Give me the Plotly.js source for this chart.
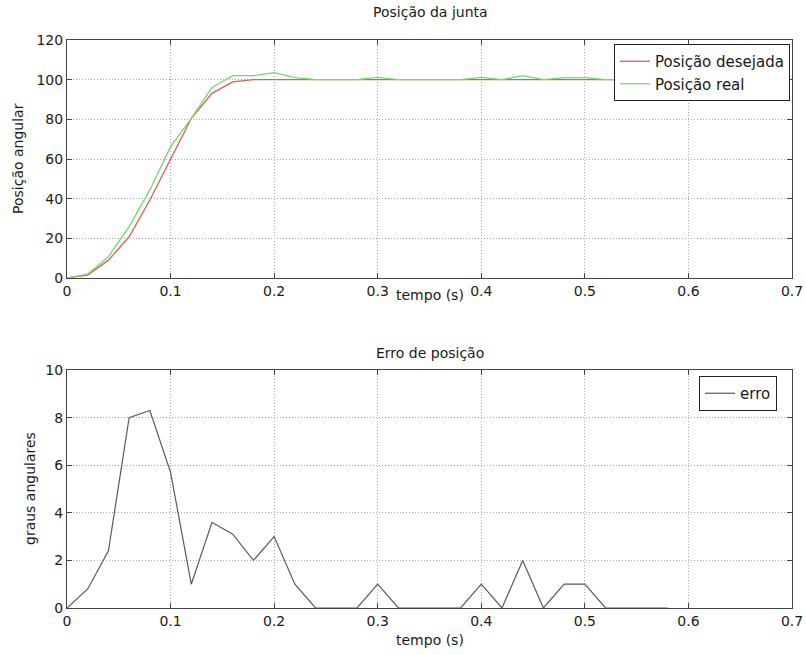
<!DOCTYPE html>
<html><head><meta charset="utf-8">
<script src="https://cdn.plot.ly/plotly-3.0.1.min.js"></script>
<style>body{margin:0;background:#fff}#g{width:806px;height:655px}</style>
</head><body><div id="g"></div>
<script>
const tempo = [0,0.02,0.04,0.06,0.08,0.10,0.12,0.14,0.16,0.18,0.20,0.22,0.24,0.26,0.28,0.30,0.32,0.34,0.36,0.38,0.40,0.42,0.44,0.46,0.48,0.50,0.52,0.54,0.56,0.58];
const posDesejada = [0,1.5,9,20.8,39.3,60.3,80.5,93.1,98.9,100,100,100,100,100,100,100,100,100,100,100,100,100,100,100,100,100,100,100,100,100];
const posReal = [0,2,10.7,25.9,44.4,66.2,80.5,96.1,102,102,103.5,101,100,100,100,101.2,100,100,100,100,101.2,100,102,100,101,101,100,100,100,100];
const erro = [0,0.8,2.4,8.0,8.3,5.7,1.0,3.6,3.1,2.0,3.0,1.0,0,0,0,1.0,0,0,0,0,1.0,0,2.0,0,1.0,1.0,0,0,0,0];
const xTicks = [0,0.1,0.2,0.3,0.4,0.5,0.6,0.7];
const xTickText = ['0','0.1','0.2','0.3','0.4','0.5','0.6','0.7'];

const font = {family:'DejaVu Sans, sans-serif', size:14, color:'#1a1a1a'};
const axBase = {showline:true, mirror:'allticks', linecolor:'#444', linewidth:1, ticks:'inside', ticklen:5, tickcolor:'#444',
  showgrid:true, gridcolor:'#a8a8a8', griddash:'1px,2px', gridwidth:1, zeroline:false, tickfont:{size:14}};

const traces = [
  {x:tempo, y:posDesejada, type:'scatter', mode:'lines', name:'Posição desejada', line:{color:'rgb(220,95,85)', width:1.3}, xaxis:'x', yaxis:'y', legend:'legend'},
  {x:tempo, y:posReal, type:'scatter', mode:'lines', name:'Posição real', line:{color:'rgb(110,220,110)', width:1.3}, xaxis:'x', yaxis:'y', legend:'legend'},
  {x:tempo, y:erro, type:'scatter', mode:'lines', name:'erro', line:{color:'rgb(90,90,90)', width:1.2}, xaxis:'x2', yaxis:'y2', legend:'legend2'}
];

const ann = (text, x, y, angle) => ({text:text, xref:'paper', yref:'paper', x:(x-67)/725, y:1-y/655, xanchor:'center', yanchor:'middle', textangle:angle||0, showarrow:false, font:{size:14}});

const layout = {
  width:806, height:655, margin:{l:67, r:14, t:0, b:0}, font:font,
  paper_bgcolor:'#fff', plot_bgcolor:'#fff',
  xaxis: Object.assign({}, axBase, {range:[0,0.7], tickvals:xTicks, ticktext:xTickText, domain:[0,1], anchor:'y'}),
  yaxis: Object.assign({}, axBase, {range:[0,120], dtick:20, domain:[1-278/655, 1-40/655], anchor:'x'}),
  xaxis2: Object.assign({}, axBase, {range:[0,0.7], tickvals:xTicks, ticktext:xTickText, domain:[0,1], anchor:'y2'}),
  yaxis2: Object.assign({}, axBase, {range:[0,10], dtick:2, domain:[1-608/655, 1-370/655], anchor:'x2'}),
  legend:{x:(790-67)/725, xanchor:'right', y:1-44/655, yanchor:'top', bordercolor:'#222', borderwidth:1, bgcolor:'#fff', font:{size:15}, tracegroupgap:0},
  legend2:{x:(777-67)/725, xanchor:'right', y:1-376/655, yanchor:'top', bordercolor:'#222', borderwidth:1, bgcolor:'#fff', font:{size:15}},
  annotations:[
    ann('Posição da junta', 430, 12),
    ann('tempo (s)', 430, 295),
    ann('Erro de posição', 430, 353),
    ann('tempo (s)', 430, 640),
    ann('Posição angular', 18, 159, -90),
    ann('graus angulares', 30, 489, -90)
  ]
};
Plotly.newPlot('g', traces, layout, {displayModeBar:false, staticPlot:true});
</script></body></html>
